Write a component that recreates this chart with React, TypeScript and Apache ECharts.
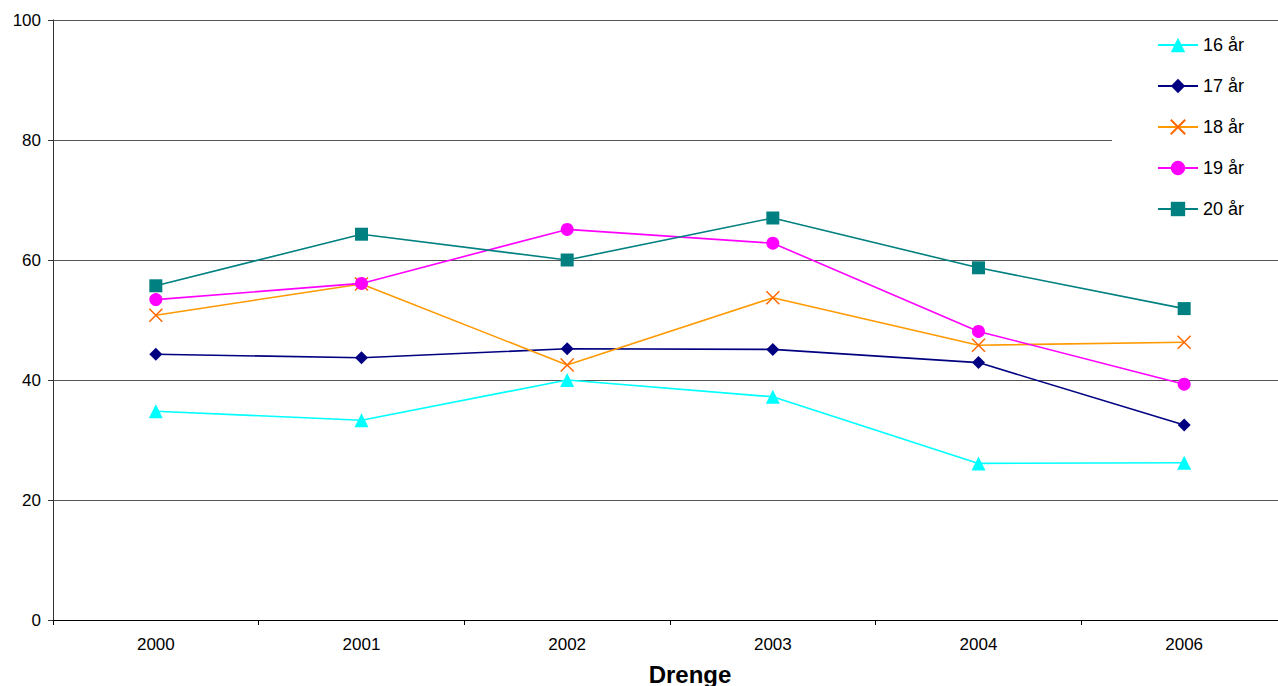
import React, { useEffect, useRef } from "react";
import * as echarts from "echarts";

const years = ["2000", "2001", "2002", "2003", "2004", "2006"];
const s16 = [34.8, 33.3, 40.0, 37.2, 26.1, 26.2];
const s17 = [44.3, 43.7, 45.2, 45.1, 42.9, 32.5];
const s18 = [50.8, 56.0, 42.5, 53.7, 45.8, 46.3];
const s19 = [53.4, 56.1, 65.1, 62.8, 48.1, 39.3];
const s20 = [55.7, 64.3, 60.0, 67.0, 58.7, 51.9];
const seriesNames = ["16 år", "17 år", "18 år", "19 år", "20 år"];
const yTicks = [0, 20, 40, 60, 80, 100];
const xTitle = "Drenge";

const FONT = "'Liberation Sans', Arial, Helvetica, sans-serif";

export default function App() {
  const ref = useRef<HTMLDivElement>(null);
  useEffect(() => {
    if (!ref.current) return;
    const chart = echarts.init(ref.current, undefined, { renderer: "svg" });
    const mk = (name: string, data: number[], color: string, symbol: string, size: number, extra: any = {}) => ({
      name,
      type: "line",
      data,
      color,
      symbol,
      symbolSize: size,
      lineStyle: { color, width: 1.6 },
      itemStyle: { color },
      ...extra,
    });
    chart.setOption({
      animation: false,
      textStyle: { fontFamily: FONT },
      grid: { left: 53, top: 20, right: 0, bottom: 66, containLabel: false },
      xAxis: {
        type: "category",
        data: years,
        boundaryGap: true,
        axisLine: { lineStyle: { color: "#000", width: 1 } },
        axisTick: { show: true, length: 5, lineStyle: { color: "#000" } },
        axisLabel: { color: "#000", fontSize: 17, margin: 16, fontFamily: FONT },
        splitLine: { show: false },
      },
      yAxis: {
        type: "value",
        min: yTicks[0],
        max: yTicks[yTicks.length - 1],
        interval: 20,
        axisLine: { show: true, lineStyle: { color: "#333", width: 1 } },
        axisTick: { show: true, length: 5, lineStyle: { color: "#333" } },
        axisLabel: { color: "#000", fontSize: 17, margin: 12, fontFamily: FONT },
        splitLine: { show: true, lineStyle: { color: "#555", width: 1 } },
      },
      legend: {
        orient: "vertical",
        left: 1112,
        top: 22,
        padding: [14, 60, 20, 45],
        itemWidth: 40,
        itemHeight: 18,
        itemGap: 23,
        backgroundColor: "#fff",
        data: seriesNames,
        textStyle: { fontSize: 18, color: "#000", fontFamily: FONT },
      },
      graphic: [
        {
          type: "text",
          x: 690,
          y: 674,
          style: {
            text: xTitle,
            align: "center",
            verticalAlign: "middle",
            font: `bold 24px ${FONT}`,
            fill: "#000",
          },
        },
      ],
      series: [
        mk(seriesNames[0], s16, "#00FFFF", "triangle", 14),
        mk(seriesNames[1], s17, "#000080", "diamond", 13),
        mk(seriesNames[2], s18, "#FF9900", "path://M0,0L12,12M12,0L0,12", 13, {
          itemStyle: { color: "#FF6600", borderColor: "#FF6600", borderWidth: 1.5 },
        }),
        mk(seriesNames[3], s19, "#FF00FF", "circle", 13),
        mk(seriesNames[4], s20, "#008080", "rect", 13),
      ],
    });
    return () => chart.dispose();
  }, []);
  return (
    <div style={{ position: "absolute", left: 0, top: 0, width: 1278, height: 686, overflow: "hidden", background: "#fff" }}>
      <div ref={ref} style={{ width: 1287, height: 686 }} />
    </div>
  );
}
